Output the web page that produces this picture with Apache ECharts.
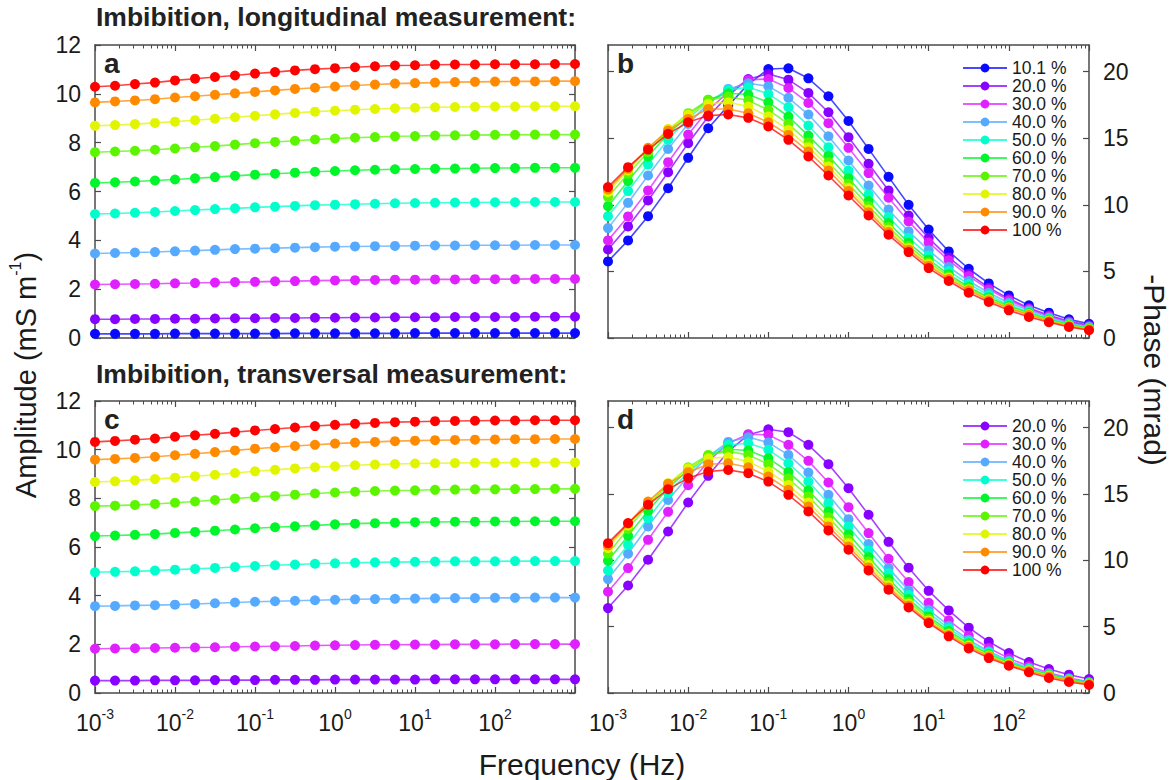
<!DOCTYPE html>
<html>
<head>
<meta charset="utf-8">
<script src="https://cdn.jsdelivr.net/npm/echarts@6/dist/echarts.min.js"></script>
<style>
html,body{margin:0;padding:0;background:#fff;}
#chart{width:1176px;height:780px;}
</style>
</head>
<body>
<div id="chart"></div>
<script>
// ---------- DATA ----------
const freqs = [0.001,0.00178,0.00316,0.00562,0.01,0.0178,0.0316,0.0562,0.1,0.178,0.316,0.562,1,1.78,3.16,5.62,10,17.8,31.6,56.2,100,178,316,562,1000];
const decadeTicks = [0.001,0.01,0.1,1,10,100,1000];
const decadeLabels = [0.001,0.01,0.1,1,10,100];
const minorMult = [2,3,4,5,6,7,8,9];
const ampTicks = [0,2,4,6,8,10,12];
const phaseTicks = [0,5,10,15,20];

const namesLong = ['10.1 %','20.0 %','30.0 %','40.0 %','50.0 %','60.0 %','70.0 %','80.0 %','90.0 %','100 %'];
const namesTrans = ['20.0 %','30.0 %','40.0 %','50.0 %','60.0 %','70.0 %','80.0 %','90.0 %','100 %'];
const colorsLong = ['#0a0aff','#8800ff','#e020ff','#55aaff','#00ffcc','#00f52a','#5cf500','#e2f500','#ff8a00','#ff0000'];
const colorsTrans = ['#8800ff','#e020ff','#55aaff','#00ffcc','#00f52a','#5cf500','#e2f500','#ff8a00','#ff0000'];

// (a) amplitude, longitudinal
const ampL101 = [0.17,0.17,0.17,0.17,0.18,0.18,0.18,0.18,0.18,0.18,0.19,0.19,0.19,0.19,0.19,0.19,0.20,0.20,0.20,0.20,0.20,0.20,0.20,0.20,0.20];
const ampL20 = [0.77,0.77,0.78,0.78,0.79,0.79,0.80,0.81,0.81,0.82,0.82,0.83,0.83,0.84,0.84,0.85,0.85,0.85,0.86,0.86,0.86,0.86,0.87,0.87,0.87];
const ampL30 = [2.19,2.20,2.21,2.22,2.24,2.25,2.27,2.29,2.30,2.32,2.33,2.35,2.36,2.37,2.38,2.39,2.39,2.40,2.40,2.41,2.41,2.41,2.42,2.42,2.42];
const ampL40 = [3.46,3.48,3.50,3.52,3.55,3.58,3.61,3.64,3.66,3.68,3.70,3.72,3.74,3.75,3.76,3.77,3.78,3.79,3.79,3.80,3.80,3.80,3.81,3.81,3.81];
const ampL50 = [5.08,5.10,5.13,5.16,5.20,5.24,5.28,5.31,5.35,5.38,5.41,5.44,5.46,5.48,5.50,5.52,5.53,5.54,5.55,5.55,5.56,5.56,5.57,5.57,5.57];
const ampL60 = [6.35,6.38,6.41,6.45,6.49,6.54,6.59,6.64,6.69,6.73,6.77,6.81,6.84,6.87,6.89,6.91,6.92,6.93,6.94,6.95,6.96,6.96,6.97,6.97,6.97];
const ampL70 = [7.61,7.64,7.67,7.71,7.76,7.81,7.86,7.92,7.98,8.03,8.08,8.13,8.17,8.20,8.23,8.26,8.27,8.29,8.30,8.31,8.32,8.32,8.33,8.33,8.33];
const ampL80 = [8.69,8.72,8.76,8.81,8.86,8.92,8.98,9.04,9.10,9.16,9.22,9.27,9.31,9.35,9.38,9.41,9.43,9.45,9.46,9.47,9.48,9.48,9.49,9.49,9.49];
const ampL90 = [9.65,9.69,9.73,9.78,9.85,9.90,9.96,10.02,10.08,10.14,10.20,10.25,10.30,10.34,10.38,10.42,10.44,10.46,10.48,10.49,10.50,10.51,10.51,10.52,10.52];
const ampL100 = [10.29,10.33,10.40,10.46,10.55,10.62,10.69,10.75,10.83,10.89,10.96,11.01,11.05,11.09,11.13,11.16,11.17,11.19,11.20,11.20,11.21,11.21,11.21,11.22,11.22];

// (b) -phase, longitudinal
const phL101 = [5.75,7.33,9.15,11.25,13.53,15.75,17.45,19.05,20.2,20.25,19.5,18.15,16.3,14.2,12.1,10.0,8.15,6.5,5.2,4.1,3.2,2.45,1.9,1.4,1.07];
const phL20 = [6.65,8.38,10.33,12.45,14.63,16.63,18.2,19.45,19.83,19.4,18.4,16.95,15.08,13.08,11.08,9.2,7.5,6.05,4.83,3.78,2.95,2.25,1.7,1.25,0.95];
const phL30 = [7.33,9.13,11.08,13.2,15.28,17.13,18.45,19.38,19.45,18.78,17.65,16.13,14.28,12.38,10.53,8.75,7.18,5.83,4.65,3.65,2.83,2.18,1.63,1.2,0.88];
const phL40 = [8.25,10.15,12.2,14.2,16.08,17.58,18.7,19.13,18.9,18.03,16.78,15.15,13.33,11.45,9.65,8.0,6.58,5.33,4.28,3.4,2.65,2.08,1.53,1.13,0.83];
const phL50 = [9.15,11.03,13.03,14.9,16.5,17.75,18.63,18.83,18.33,17.33,15.95,14.33,12.58,10.78,9.08,7.53,6.2,5.03,4.05,3.23,2.5,1.95,1.45,1.05,0.78];
const phL60 = [9.9,11.78,13.63,15.33,16.7,17.88,18.38,18.28,17.7,16.63,15.2,13.68,12.0,10.28,8.63,7.15,5.88,4.78,3.83,3.05,2.4,1.88,1.38,1.0,0.73];
const phL70 = [10.58,12.33,13.95,15.53,16.88,17.88,18.13,17.83,17.13,16.08,14.7,13.2,11.58,9.9,8.33,6.9,5.68,4.63,3.73,2.95,2.33,1.8,1.33,0.95,0.68];
const phL80 = [10.95,12.58,14.2,15.7,16.78,17.58,17.7,17.38,16.63,15.63,14.33,12.88,11.28,9.65,8.13,6.75,5.55,4.53,3.65,2.9,2.28,1.78,1.3,0.93,0.65];
const phL90 = [11.15,12.7,14.28,15.58,16.45,17.2,17.2,16.88,16.2,15.25,14.0,12.58,11.03,9.45,7.95,6.63,5.43,4.43,3.58,2.83,2.23,1.73,1.25,0.9,0.63];
const phL100 = [11.33,12.83,14.15,15.33,16.2,16.7,16.78,16.53,15.88,14.88,13.63,12.2,10.7,9.2,7.75,6.45,5.25,4.28,3.4,2.7,2.08,1.58,1.18,0.83,0.58];

// (c) amplitude, transversal
const ampT20 = [0.51,0.51,0.51,0.52,0.52,0.52,0.53,0.53,0.53,0.54,0.54,0.54,0.55,0.55,0.55,0.55,0.55,0.56,0.56,0.56,0.56,0.56,0.56,0.56,0.56];
const ampT30 = [1.82,1.83,1.84,1.85,1.86,1.87,1.88,1.90,1.91,1.92,1.93,1.95,1.96,1.97,1.98,1.98,1.99,1.99,2.00,2.00,2.00,2.01,2.01,2.01,2.01];
const ampT40 = [3.57,3.58,3.60,3.61,3.63,3.66,3.69,3.72,3.75,3.77,3.79,3.81,3.83,3.85,3.86,3.87,3.88,3.89,3.90,3.90,3.91,3.91,3.92,3.92,3.92];
const ampT50 = [4.96,4.98,5.00,5.03,5.07,5.10,5.14,5.18,5.22,5.25,5.28,5.31,5.33,5.35,5.37,5.38,5.39,5.40,5.41,5.41,5.41,5.42,5.42,5.42,5.42];
const ampT60 = [6.45,6.47,6.50,6.53,6.58,6.62,6.67,6.72,6.77,6.81,6.85,6.89,6.93,6.96,6.98,7.00,7.02,7.03,7.04,7.04,7.05,7.05,7.06,7.06,7.06];
const ampT70 = [7.68,7.70,7.73,7.77,7.82,7.87,7.93,7.99,8.05,8.10,8.15,8.20,8.24,8.27,8.30,8.32,8.33,8.35,8.36,8.37,8.37,8.38,8.38,8.39,8.39];
const ampT80 = [8.67,8.70,8.74,8.79,8.85,8.91,8.97,9.04,9.11,9.17,9.23,9.28,9.32,9.36,9.39,9.41,9.43,9.44,9.45,9.46,9.46,9.47,9.47,9.47,9.47];
const ampT90 = [9.59,9.62,9.66,9.71,9.77,9.83,9.90,9.97,10.04,10.10,10.15,10.20,10.25,10.29,10.32,10.35,10.37,10.39,10.40,10.41,10.42,10.43,10.43,10.44,10.44];
const ampT100 = [10.32,10.36,10.41,10.46,10.53,10.59,10.65,10.72,10.79,10.85,10.91,10.97,11.02,11.06,11.10,11.13,11.15,11.17,11.18,11.19,11.20,11.20,11.21,11.21,11.21];

// (d) -phase, transversal
const phT20 = [6.4,8.1,10.04,12.17,14.35,16.36,18.2,19.45,19.87,19.65,18.7,17.24,15.43,13.43,11.39,9.44,7.7,6.22,4.92,3.86,3.01,2.33,1.81,1.38,1.05];
const phT30 = [7.63,9.41,11.54,13.65,15.66,17.44,18.82,19.5,19.45,18.7,17.49,15.86,14.0,12.05,10.11,8.36,6.8,5.47,4.32,3.39,2.61,2.01,1.53,1.13,0.85];
const phT40 = [8.58,10.49,12.55,14.55,16.31,17.82,18.92,19.27,18.87,17.94,16.61,14.93,13.1,11.22,9.41,7.73,6.27,5.07,4.02,3.14,2.43,1.88,1.46,1.08,0.8];
const phT50 = [9.23,11.17,13.17,15.06,16.61,17.87,18.69,18.82,18.32,17.31,15.93,14.3,12.55,10.74,9.03,7.4,6.02,4.87,3.89,3.06,2.36,1.83,1.41,1.05,0.78];
const phT60 = [9.96,11.84,13.73,15.43,16.81,17.87,18.37,18.27,17.69,16.66,15.26,13.68,11.97,10.24,8.58,7.08,5.77,4.67,3.74,2.94,2.28,1.76,1.36,1.0,0.75];
const phT70 = [10.49,12.37,14.18,15.68,17.01,17.94,18.19,17.94,17.24,16.16,14.81,13.25,11.59,9.91,8.33,6.88,5.6,4.52,3.64,2.86,2.23,1.73,1.33,0.98,0.73];
const phT80 = [10.92,12.62,14.3,15.81,16.94,17.69,17.77,17.44,16.69,15.68,14.35,12.85,11.29,9.66,8.11,6.73,5.47,4.44,3.56,2.81,2.18,1.71,1.3,0.95,0.7];
const phT90 = [11.12,12.75,14.43,15.76,16.64,17.24,17.31,17.01,16.31,15.31,14.05,12.55,11.04,9.46,7.95,6.6,5.37,4.37,3.49,2.76,2.13,1.66,1.25,0.93,0.68];
const phT100 = [11.29,12.8,14.18,15.36,16.19,16.69,16.81,16.56,15.93,14.93,13.68,12.25,10.79,9.23,7.78,6.45,5.27,4.27,3.36,2.63,2.06,1.56,1.13,0.83,0.6];

const panelA = [ampL101,ampL20,ampL30,ampL40,ampL50,ampL60,ampL70,ampL80,ampL90,ampL100];
const panelB = [phL101,phL20,phL30,phL40,phL50,phL60,phL70,phL80,phL90,phL100];
const panelC = [ampT20,ampT30,ampT40,ampT50,ampT60,ampT70,ampT80,ampT90,ampT100];
const panelD = [phT20,phT30,phT40,phT50,phT60,phT70,phT80,phT90,phT100];

// ---------- CHART ----------
const FONT = '"Liberation Sans", Arial, Helvetica, sans-serif';
const FRAME = '#4a4a4a';
const TXT = '#1a1a1a';
const minorTicks = [];
decadeTicks.slice(0, -1).forEach(d => minorMult.forEach(m => minorTicks.push(+(d * m).toPrecision(3))));

const grids = [
  {left: 95, top: 45, width: 480, height: 293},
  {left: 608, top: 45, width: 481, height: 293},
  {left: 95, top: 401, width: 480, height: 292},
  {left: 608, top: 401, width: 481, height: 292}
];

const supFmt = v => '{b|10}{s|' + Math.round(Math.log10(v)) + '}';

const xAxes = [];
const yAxes = [];
grids.forEach((g, gi) => {
  const showLab = gi >= 2;
  const base = {type: 'log', logBase: 10, min: 0.001, max: 1000, gridIndex: gi, splitLine: {show: false}};
  xAxes.push(Object.assign({}, base, {
    position: 'bottom',
    axisLine: {show: true, lineStyle: {color: FRAME, width: 1.5}},
    axisTick: {show: true, inside: true, length: 6, customValues: decadeTicks, lineStyle: {color: FRAME, width: 1.2}},
    axisLabel: {show: showLab, customValues: decadeLabels, margin: 14, formatter: supFmt, color: TXT,
      rich: {b: {fontSize: 23, fontFamily: FONT, color: TXT, lineHeight: 27, verticalAlign: 'bottom'},
             s: {fontSize: 14, fontFamily: FONT, color: TXT, lineHeight: 14, verticalAlign: 'top'}}}
  }));
  xAxes.push(Object.assign({}, base, {
    position: 'bottom',
    axisLine: {show: false},
    axisTick: {show: true, inside: true, length: 3.5, customValues: minorTicks, lineStyle: {color: FRAME, width: 1}},
    axisLabel: {show: false}
  }));
  xAxes.push(Object.assign({}, base, {
    position: 'top',
    axisLine: {show: true, lineStyle: {color: FRAME, width: 1.5}},
    axisTick: {show: true, inside: true, length: 6, customValues: decadeTicks, lineStyle: {color: FRAME, width: 1.2}},
    axisLabel: {show: false}
  }));
  xAxes.push(Object.assign({}, base, {
    position: 'top',
    axisLine: {show: false},
    axisTick: {show: true, inside: true, length: 3.5, customValues: minorTicks, lineStyle: {color: FRAME, width: 1}},
    axisLabel: {show: false}
  }));

  const isAmp = (gi % 2 === 0);
  const ticks = isAmp ? ampTicks : phaseTicks;
  const ybase = {type: 'value', gridIndex: gi, min: 0, max: isAmp ? 12 : 22, splitLine: {show: false}};
  ['left', 'right'].forEach(pos => {
    const lab = (isAmp && pos === 'left') || (!isAmp && pos === 'right');
    yAxes.push(Object.assign({}, ybase, {
      position: pos,
      axisLine: {show: true, lineStyle: {color: FRAME, width: 1.5}},
      axisTick: {show: true, inside: true, length: 6, customValues: ticks, lineStyle: {color: FRAME, width: 1.2}},
      axisLabel: {show: lab, customValues: ticks, margin: 14, fontSize: 23, fontFamily: FONT, color: TXT}
    }));
  });
});

const series = [];
function addPanel(arrs, names, colors, gi) {
  arrs.forEach((arr, i) => {
    series.push({
      type: 'line',
      name: names[i],
      xAxisIndex: gi * 4,
      yAxisIndex: gi * 2,
      data: freqs.map((f, k) => [f, arr[k]]),
      symbol: 'circle',
      symbolSize: 10,
      showSymbol: true,
      color: colors[i],
      itemStyle: {color: colors[i], borderWidth: 0, opacity: 1},
      lineStyle: {color: colors[i], width: 1.6, opacity: 0.75},
      emphasis: {disabled: true},
      z: 2 + i
    });
  });
}
addPanel(panelA, namesLong, colorsLong, 0);
addPanel(panelB, namesLong, colorsLong, 1);
addPanel(panelC, namesTrans, colorsTrans, 2);
addPanel(panelD, namesTrans, colorsTrans, 3);

const legendBase = {
  orient: 'vertical', itemWidth: 44, itemHeight: 11, itemGap: 0, padding: 0,
  selectedMode: false,
  textStyle: {fontSize: 17.5, fontFamily: FONT, color: TXT, lineHeight: 17.5, padding: [0, 0, 0, 0]}
};

const letterStyle = {fontSize: 28, fontWeight: 'bold', fontFamily: FONT, color: '#222'};
const headStyle = {fontSize: 26.5, fontWeight: 'bold', fontFamily: FONT, color: '#222'};

const option = {
  animation: false,
  backgroundColor: '#ffffff',
  grid: grids,
  xAxis: xAxes,
  yAxis: yAxes,
  series: series,
  legend: [
    Object.assign({}, legendBase, {left: 962, top: 59, data: namesLong}),
    Object.assign({}, legendBase, {left: 962, top: 417, data: namesTrans})
  ],
  title: [
    {text: 'Imbibition, longitudinal measurement:', left: 96, top: 3, padding: 0, textStyle: headStyle},
    {text: 'Imbibition, transversal measurement:', left: 96, top: 360, padding: 0, textStyle: headStyle},
    {text: 'a', left: 104, top: 49, padding: 0, textStyle: letterStyle},
    {text: 'b', left: 617, top: 49, padding: 0, textStyle: letterStyle},
    {text: 'c', left: 104, top: 405, padding: 0, textStyle: letterStyle},
    {text: 'd', left: 617, top: 405, padding: 0, textStyle: letterStyle}
  ],
  graphic: [
    {type: 'text', x: 24, y: 375, rotation: Math.PI / 2,
      style: {text: '{n|Amplitude (mS m}{s|-1}{n|)}', align: 'center', verticalAlign: 'middle',
        rich: {n: {fontSize: 29, fontFamily: FONT, fill: TXT, color: TXT, lineHeight: 33, verticalAlign: 'bottom'},
               s: {fontSize: 16, fontFamily: FONT, fill: TXT, color: TXT, lineHeight: 16, verticalAlign: 'top'}}}},
    {type: 'text', x: 1154, y: 370, rotation: -Math.PI / 2,
      style: {text: '-Phase (mrad)', align: 'center', verticalAlign: 'middle', font: '30px ' + FONT, fill: TXT}},
    {type: 'text', x: 582, y: 764,
      style: {text: 'Frequency (Hz)', align: 'center', verticalAlign: 'middle', font: '30px ' + FONT, fill: TXT}}
  ]
};

const chart = echarts.init(document.getElementById('chart'), null, {renderer: 'svg', width: 1176, height: 780});
chart.setOption(option);
</script>
</body>
</html>
